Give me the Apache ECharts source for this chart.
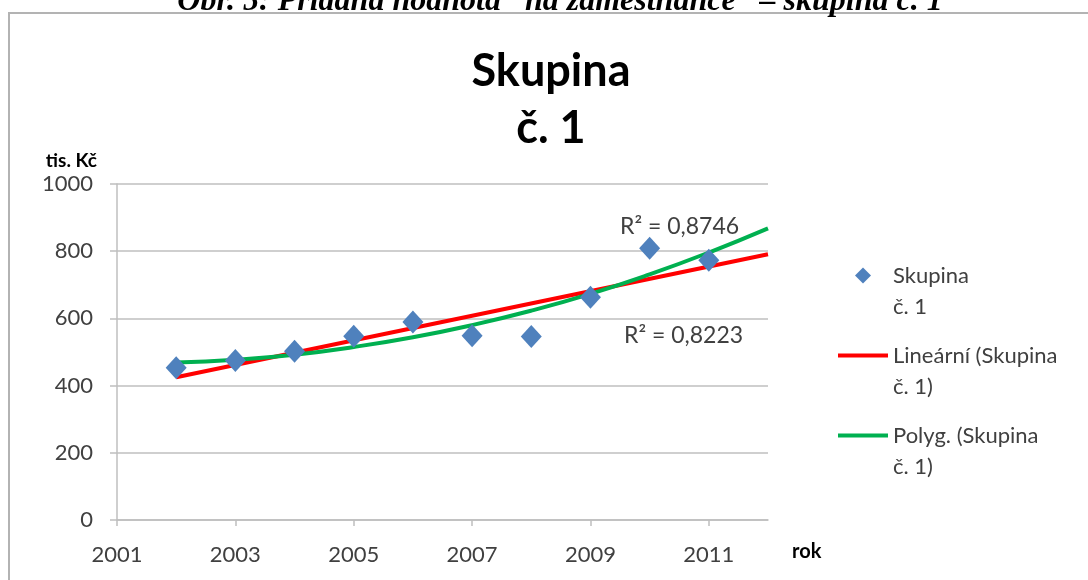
<!DOCTYPE html>
<html>
<head>
<meta charset="utf-8">
<script src="https://cdn.jsdelivr.net/npm/echarts@6/dist/echarts.min.js"></script>
<style>html,body{margin:0;padding:0;background:#fff;}#c{width:1088px;height:580px;}</style>
</head>
<body>
<div id="c"></div>
<script>
// ---- data ----
const years = [2002, 2003, 2004, 2005, 2006, 2007, 2008, 2009, 2010, 2011];
const values = [453, 475, 502, 547, 589, 548, 546, 663, 809, 773];
const linYears = [2002, 2012];
const linValues = [425, 791];
const polyYears = [2002, 2003, 2004, 2005, 2006, 2007, 2008, 2009, 2010, 2011, 2012];
const polyValues = [469, 477, 492, 515, 544, 580, 623, 673, 731, 796, 868];
const seriesNames = ['Skupina č. 1', 'Lineární (Skupina č. 1)', 'Polyg. (Skupina č. 1)'];
const legendLabels = ['Skupina\nč. 1', 'Lineární (Skupina\nč. 1)', 'Polyg. (Skupina\nč. 1)'];
const r2Labels = ['R² = 0,8746', 'R² = 0,8223'];
const titleText = 'Skupina\nč. 1';
const captionText = 'Obr. 5: Přidaná hodnota“ na zaměstnance“ – skupina č. 1';
const yName = 'tis. Kč';
const xName = 'rok';

const FONT = 'Lato';
const TXT = '#404040';
const GRID = '#bfbfbf';

const chart = echarts.init(document.getElementById('c'), null, {renderer: 'canvas'});
const zip = (a, b) => a.map((v, i) => [v, b[i]]);
const legendIcons = ['path://M8,0L16,8L8,16L0,8Z', 'path://M0,0H50V4H0Z', 'path://M0,0H50V4H0Z'];

chart.setOption({
  backgroundColor: '#fff',
  animation: false,
  textStyle: {fontFamily: FONT},
  title: {
    text: titleText,
    left: 546,
    textAlign: 'center',
    top: 38,
    textStyle: {fontFamily: FONT, fontSize: 45, fontWeight: 'bold', color: '#000', lineHeight: 57}
  },
  grid: {left: 117, right: 320, top: 184, bottom: 60},
  xAxis: {
    type: 'value', min: 2001, max: 2012, interval: 2,
    name: '\n\n' + xName, nameLocation: 'end', nameGap: 24,
    nameTextStyle: {fontFamily: FONT, fontSize: 20, fontWeight: 'bold', color: '#000', lineHeight: 32, verticalAlign: 'middle'},
    axisLine: {show: true, lineStyle: {color: GRID, width: 1.5}},
    axisTick: {show: true, length: 6, lineStyle: {color: GRID, width: 1.5}},
    axisLabel: {margin: 24, fontSize: 22, color: TXT, showMaxLabel: false, formatter: v => String(v)},
    splitLine: {show: false}
  },
  yAxis: {
    type: 'value', min: 0, max: 1000, interval: 200,
    name: yName, nameLocation: 'end', nameGap: 14,
    nameTextStyle: {fontFamily: FONT, fontSize: 19, fontWeight: 'bold', color: '#000', align: 'right', padding: [0, 20, 0, 0]},
    axisLine: {show: true, lineStyle: {color: GRID, width: 1.5}},
    axisTick: {show: true, length: 7, lineStyle: {color: GRID, width: 1.5}},
    axisLabel: {margin: 24, fontSize: 22, color: TXT, formatter: v => String(v)},
    splitLine: {show: true, lineStyle: {color: GRID, width: 1.5}}
  },
  legend: {
    orient: 'vertical',
    left: 833, top: 224,
    itemWidth: 50, itemHeight: 16, itemGap: -13,
    data: seriesNames.map((n, i) => ({name: n, icon: legendIcons[i]})),
    formatter: name => ' \n' + legendLabels[seriesNames.indexOf(name)],
    textStyle: {fontFamily: FONT, fontSize: 22, color: TXT, lineHeight: 31}
  },
  series: [
    {
      name: seriesNames[0], type: 'scatter', symbol: 'diamond', symbolSize: [21, 23],
      itemStyle: {color: '#4f81bd', opacity: 1}, data: zip(years, values), z: 3
    },
    {
      name: seriesNames[1], type: 'line', symbol: 'none', showSymbol: false,
      lineStyle: {color: '#ff0000', width: 4}, itemStyle: {color: '#ff0000'},
      data: zip(linYears, linValues), z: 2
    },
    {
      name: seriesNames[2], type: 'line', symbol: 'none', showSymbol: false, smooth: true,
      lineStyle: {color: '#00b050', width: 4}, itemStyle: {color: '#00b050'},
      data: zip(polyYears, polyValues), z: 2
    }
  ],
  graphic: [
    {type: 'rect', silent: true, z: -1, shape: {x: 9, y: 13, width: 1200, height: 700},
      style: {fill: 'none', stroke: '#b3b3b3', lineWidth: 2}},
    {type: 'text', silent: true, x: 560, y: 2,
      style: {text: captionText, fontFamily: 'Liberation Serif', fontStyle: 'italic', fontWeight: 'bold',
        fontSize: 32, fill: '#000', align: 'center', verticalAlign: 'middle'}},
    {type: 'text', silent: true, x: 620, y: 227,
      style: {text: r2Labels[0], fontFamily: FONT, fontSize: 23, fill: TXT, align: 'left', verticalAlign: 'middle'}},
    {type: 'text', silent: true, x: 624, y: 336,
      style: {text: r2Labels[1], fontFamily: FONT, fontSize: 23, fill: TXT, align: 'left', verticalAlign: 'middle'}}
  ]
});
</script>
</body>
</html>
